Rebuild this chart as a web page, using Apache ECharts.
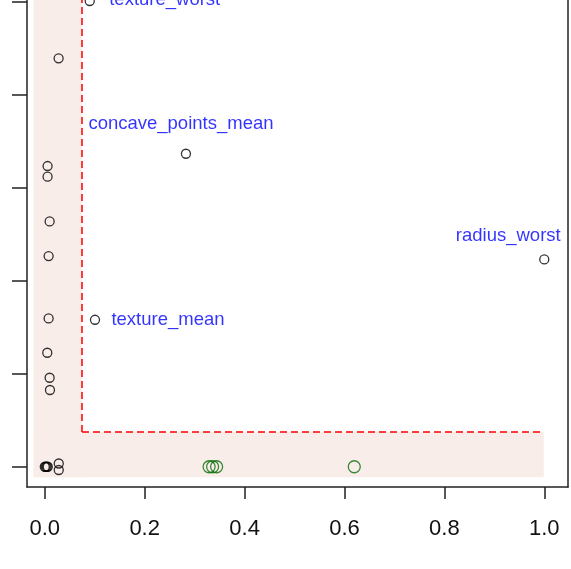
<!DOCTYPE html>
<html>
<head>
<meta charset="utf-8">
<script src="https://cdn.jsdelivr.net/npm/echarts@6/dist/echarts.min.js"></script>
<style>
  html, body { margin: 0; padding: 0; background: #fff; }
  #chart { width: 571px; height: 569px; }
</style>
</head>
<body>
<div id="chart"></div>
<script>
// black points (x, y) and their names ('' = no label)
const pointX = [0.090, 0.0277, 0.2826, 0.0056, 0.0056, 0.0097, 0.0077, 0.0077, 0.1005, 0.005, 0.0097, 0.0104, 1.0,
  0.0, 0.002, 0.004, 0.006, 0.028, 0.028];
const pointY = [5.013, 4.396, 3.369, 3.237, 3.122, 2.641, 2.268, 1.597, 1.582, 1.227, 0.958, 0.826, 2.232,
  0.0, 0.0, 0.0, 0.0, 0.035, -0.035];
const pointNames = ['texture_worst', '', 'concave_points_mean', '', '', '', '', '', 'texture_mean', '', '', '', 'radius_worst',
  '', '', '', '', '', ''];

// green points
const greenX = [0.329, 0.336, 0.344, 0.6196];
const greenY = [0, 0, 0, 0];

// thresholds for the shaded region
const xCut = 0.0745;
const yCut = 0.373;
const xTicks = [0, 0.2, 0.4, 0.6, 0.8, 1.0];
const yTicks = [0, 1, 2, 3, 4, 5];

const xMin = -0.0356, xMax = 1.0475;
const yMin = -0.218, yMax = 5.024;

// label placement (pixel offsets from the point)
const labelOffsets = {
  texture_worst: [75, -1],
  concave_points_mean: [-5, -30],
  texture_mean: [73, 0],
  radius_worst: [-36, -23]
};

const chart = echarts.init(document.getElementById('chart'), null, { renderer: 'canvas' });

const blackData = pointX.map((x, i) => {
  const item = { value: [x, pointY[i]], name: pointNames[i] };
  if (pointNames[i]) {
    item.label = {
      show: true,
      position: 'inside',
      formatter: '{b}',
      offset: labelOffsets[pointNames[i]],
      color: '#0000ff',
      fontSize: 18.5,
      fontFamily: 'Liberation Sans, Arial, sans-serif'
    };
  }
  return item;
});

const greenData = greenX.map((x, i) => [x, greenY[i]]);

const option = {
  backgroundColor: '#fff',
  animation: false,
  grid: { left: 27, right: 3, top: 0, bottom: 82, show: false },
  xAxis: {
    type: 'value',
    min: xMin, max: xMax,
    axisLine: { show: true, onZero: false, lineStyle: { color: '#222', width: 1.5 } },
    axisTick: { show: true, length: 12, customValues: xTicks, lineStyle: { color: '#222', width: 1.5 } },
    axisLabel: {
      customValues: xTicks,
      formatter: v => v.toFixed(1),
      fontSize: 22, color: '#111', margin: 31,
      fontFamily: 'Liberation Sans, Arial, sans-serif'
    },
    splitLine: { show: false }
  },
  yAxis: [
    {
      type: 'value',
      min: yMin, max: yMax,
      axisLine: { show: true, onZero: false, lineStyle: { color: '#222', width: 1.5 } },
      axisTick: { show: true, length: 15, customValues: yTicks, lineStyle: { color: '#222', width: 1.5 } },
      axisLabel: { show: false },
      splitLine: { show: false }
    },
    {
      type: 'value',
      position: 'right',
      min: yMin, max: yMax,
      axisLine: { show: true, onZero: false, lineStyle: { color: '#222', width: 1.5 } },
      axisTick: { show: false },
      axisLabel: { show: false },
      splitLine: { show: false }
    }
  ],
  series: [
    {
      type: 'scatter',
      symbol: 'none',
      data: [],
      silent: true,
      markArea: {
        silent: true,
        itemStyle: { color: '#f9ede9', opacity: 1 },
        data: [
          [{ coord: [-0.0224, -0.113] }, { coord: [xCut, yMax] }],
          [{ coord: [-0.0224, -0.113] }, { coord: [0.999, yCut] }]
        ]
      },
      markLine: {
        silent: true,
        symbol: ['none', 'none'],
        label: { show: false },
        lineStyle: { color: '#ff0000', type: [7, 4], width: 1.5 },
        data: [
          [{ coord: [xCut, yCut] }, { coord: [xCut, yMax] }],
          [{ coord: [xCut, yCut] }, { coord: [0.996, yCut] }]
        ]
      }
    },
    {
      type: 'scatter',
      symbol: 'circle',
      symbolSize: 9,
      itemStyle: { color: 'rgba(0,0,0,0)', borderColor: '#000', borderWidth: 1.3 },
      data: blackData
    },
    {
      type: 'scatter',
      symbol: 'circle',
      symbolSize: 12,
      itemStyle: { color: 'rgba(0,0,0,0)', borderColor: '#0a6e0a', borderWidth: 1.3 },
      data: greenData
    }
  ]
};

chart.setOption(option);
</script>
</body>
</html>
